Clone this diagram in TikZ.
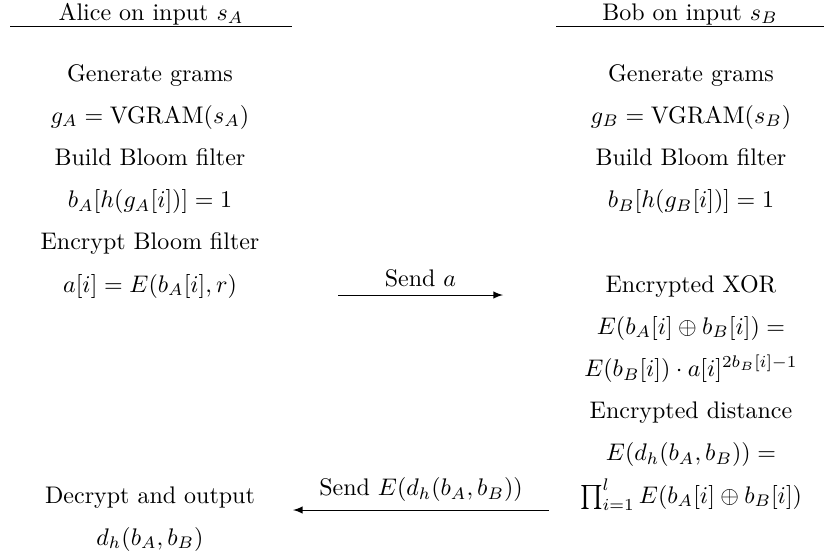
\documentclass[tikz,border=0pt]{standalone}
\usepackage{amsmath}
\usepackage{amssymb}
\usetikzlibrary{arrows,positioning}

\begin{document}
\begin{tikzpicture}[x=0.4167pt,y=-0.4167pt,
        step text/.style={anchor=base},
        msg/.style={-latex}]
            \useasboundingbox (0,0) rectangle (824,559);

            % Headers
            \node[step text] (alice) at (151,20) {Alice on input $s_A$};
            \node[step text] (bob) at (690,20) {Bob on input $s_B$};
            \draw (10,26) -- (292,26);
            \draw (556,26) -- (824,26);

            % Alice
            \node[step text] (agen) at (150,81) {Generate grams};
            \node[step text] (agram) at (150,123.2) {$g_A = \mathrm{VGRAM}(s_A)$};
            \node[step text] (abuild) at (150,165.4) {Build Bloom filter};
            \node[step text] (abloom) at (150,207.6) {$b_A[h(g_A[i])] = 1$};
            \node[step text] (aenc) at (150,249.8) {Encrypt Bloom filter};
            \node[step text] (acipher) at (150,292) {$a[i] = E(b_A[i], r)$};
            \node[step text] (adec) at (150,503) {Decrypt and output};
            \node[step text] (aout) at (150,545.2) {$d_h(b_A, b_B)$};

            % Bob
            \node[step text] (bgen) at (691,81) {Generate grams};
            \node[step text] (bgram) at (691,123.2) {$g_B = \mathrm{VGRAM}(s_B)$};
            \node[step text] (bbuild) at (691,165.4) {Build Bloom filter};
            \node[step text] (bbloom) at (691,207.6) {$b_B[h(g_B[i])] = 1$};
            \node[step text] (bxor) at (691,292) {Encrypted XOR};
            \node[step text] (bxor1) at (691,334.2) {$E(b_A[i] \oplus b_B[i]) =$};
            \node[step text] (bxor2) at (691,376.4) {$E(b_B[i]) \cdot a[i]^{2b_B[i]-1}$};
            \node[step text] (bdist) at (691,418.6) {Encrypted distance};
            \node[step text] (bdist1) at (691,460.8) {$E(d_h(b_A, b_B)) =$};
            \node[step text] (bdist2) at (691,503) {$\prod_{i=1}^{l} E(b_A[i] \oplus b_B[i])$};

            % Messages
            \coordinate (senda start) at (338,295);
            \coordinate (senda end) at (503,295);
            \draw[msg] (senda start) -- node[above] (senda) {Send $a$} (senda end);

            \coordinate (sendd start) at (549,510);
            \coordinate (sendd end) at (293,510);
            \draw[msg] (sendd start) -- node[above] (sendd) {Send $E(d_h(b_A, b_B))$} (sendd end);
        \end{tikzpicture}
\end{document}
